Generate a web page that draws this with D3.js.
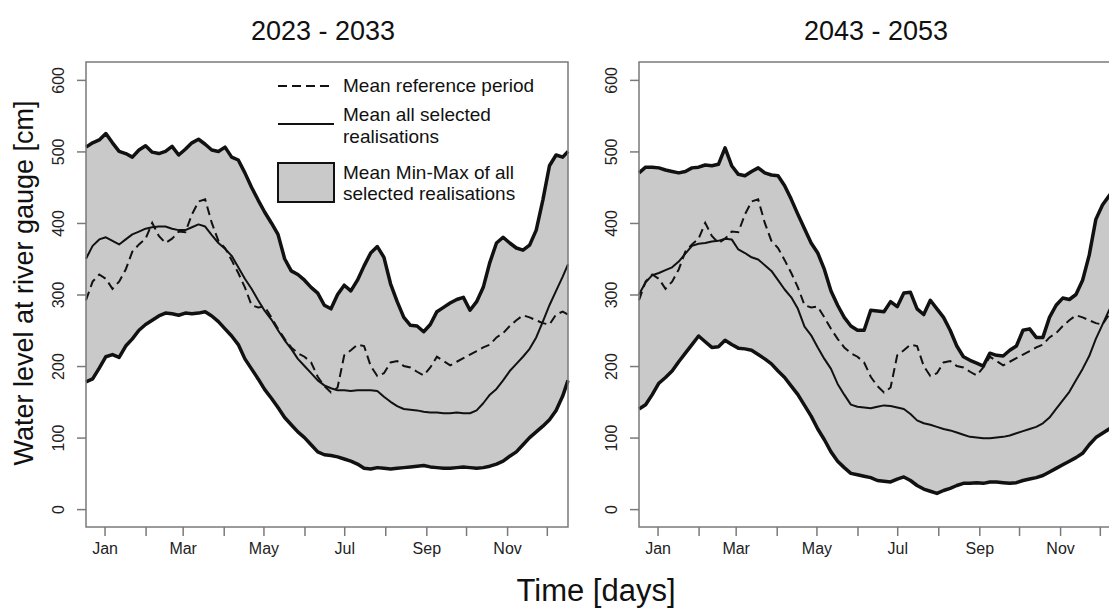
<!DOCTYPE html>
<html>
<head>
<meta charset="utf-8">
<script src="https://cdn.jsdelivr.net/npm/d3@7"></script>
<style>
  html, body { margin: 0; padding: 0; background: #fff; overflow: hidden; }
  svg { display: block; font-family: "Liberation Sans", Arial, sans-serif; }
</style>
</head>
<body>
<svg id="chart" width="1109" height="609"></svg>
<script>
// Day-of-year grid shared by every series (5-day steps, closing on day 365)
const days = [...d3.range(1, 362, 5), 365];

// Month ticks sit at mid-month; only every other month is labelled
const monthTickDays = [15, 46, 74, 105, 135, 166, 196, 227, 258, 288, 319, 349];
const monthLabels = ["Jan", "", "Mar", "", "May", "", "Jul", "", "Sep", "", "Nov", ""];
const yTicks = [0, 100, 200, 300, 400, 500, 600];
const periods = ["2023 - 2033", "2043 - 2053"];

// Mean water level of the reference period [cm]
const refMean = [
  292, 318, 328, 322, 308, 318, 335, 360, 370, 378,
  400, 382, 372, 378, 388, 387, 412, 430, 433, 400,
  375, 365, 348, 330, 310, 285, 282, 283, 268, 252,
  238, 226, 218, 213, 205, 185, 172, 163, 170, 215,
  222, 230, 228, 200, 186, 190, 205, 207, 200, 198,
  192, 187, 198, 213, 207, 201, 206, 211, 216, 221,
  226, 230, 240, 246, 256, 264, 271, 268, 264, 260,
  258, 272, 276, 272
];

// 2023 - 2033: mean maximum, mean minimum and mean of all selected realisations
const maxA = [
  506, 512, 516, 525, 512, 500, 497, 492, 502, 508,
  499, 497, 500, 507, 495, 503, 512, 517, 510, 502,
  500, 506, 492, 488, 470, 450, 432, 415, 400, 384,
  350, 333, 328, 320, 310, 302, 285, 280, 300, 313,
  305, 320, 340, 358, 367, 352, 315, 290, 268, 257,
  256, 248, 258, 276, 282, 288, 293, 296, 278, 290,
  310, 345, 372, 380, 372, 365, 362, 369, 390, 432,
  480, 495, 492, 500
];
const minA = [
  178, 182, 197, 213, 216, 212, 228, 238, 250, 258,
  264, 270, 274, 273, 271, 274, 273, 274, 276, 270,
  262, 252, 242, 230, 210, 196, 182, 167, 155, 142,
  128, 118, 108, 100, 90, 80, 76, 75, 73, 70,
  67, 63, 57, 56, 58, 57, 56, 57, 58, 59,
  60, 61, 59, 58, 57, 57, 58, 59, 58, 57,
  58, 60, 63, 67, 74, 80, 90, 100, 108, 116,
  125, 138, 158, 180
];
const meanA = [
  350, 368, 377, 380, 375, 370, 377, 384, 388, 392,
  394, 395, 395, 392, 390, 390, 394, 398, 395, 383,
  372, 364, 354, 338, 322, 308, 292, 277, 265, 250,
  236, 224, 210, 200, 190, 180, 173, 169, 166, 166,
  165, 166, 166, 166, 165, 157, 150, 144, 140, 139,
  138, 136, 135, 135, 134, 134, 135, 134, 134, 138,
  148, 160, 168, 180, 193, 203, 213, 224, 240, 262,
  285, 305, 325, 342
];

// 2043 - 2053
const maxB = [
  470, 478, 478, 477, 474, 472, 470, 472, 477, 478,
  481, 480, 482, 505, 480, 468, 466, 472, 477, 470,
  467, 466, 452, 433, 412, 392, 372, 358, 335, 305,
  285, 268, 256, 250, 250, 278, 277, 276, 290, 283,
  302, 303, 280, 272, 292, 280, 268, 250, 228, 213,
  208, 204, 200, 218, 215, 214, 222, 228, 250, 252,
  240, 240, 268, 285, 295, 293, 300, 320, 355, 405,
  425, 438, 450, 458
];
const minB = [
  140, 146, 160, 176, 184, 193, 206, 218, 230, 242,
  234, 226, 227, 236, 230, 225, 224, 222, 216, 210,
  203, 193, 184, 172, 160, 145, 130, 112, 97, 80,
  67, 58, 50, 48, 46, 44, 40, 39, 38, 42,
  45, 40, 33, 28, 25, 22, 26, 29, 33, 36,
  36, 37, 36, 38, 38, 37, 36, 37, 40, 42,
  44, 47, 52, 57, 62, 67, 72, 78, 90, 100,
  106, 112, 118, 122
];
const meanB = [
  300, 317, 327, 330, 334, 338, 346, 357, 368, 371,
  372, 374, 375, 378, 377, 363, 358, 352, 349, 341,
  333, 320, 307, 296, 280, 255, 243, 226, 210, 196,
  175, 160, 146, 143, 142, 141, 143, 145, 144, 142,
  140, 133, 124, 120, 118, 115, 112, 110, 107, 104,
  101, 100, 99, 99, 100, 101, 103, 106, 109, 112,
  115, 120, 128, 140, 152, 164, 180, 196, 214, 238,
  258, 278, 295, 302
];

const panels = [
  { title: periods[0], left: 86, max: maxA, min: minA, mean: meanA, legend: true },
  { title: periods[1], left: 639, max: maxB, min: minB, mean: meanB, legend: false }
];

const W = 482, TOP = 62, BOTTOM = 527;
const ink = "#111", frame = "#7a7a7a", band = "#c9c9c9";
const FONT = "Liberation Sans, Arial, sans-serif";

const svg = d3.select("#chart");
const y = d3.scaleLinear().domain([-25, 625]).range([BOTTOM, TOP]);

panels.forEach(p => {
  const x = d3.scaleLinear().domain([1, 365]).range([p.left, p.left + W]);
  const g = svg.append("g");
  const rows = days.map((d, i) => ({ d, hi: p.max[i], lo: p.min[i], m: p.mean[i], r: refMean[i] }));

  // Min-max band
  g.append("path")
    .datum(rows)
    .attr("fill", band)
    .attr("d", d3.area().x(r => x(r.d)).y0(r => y(r.lo)).y1(r => y(r.hi)));

  const line = key => d3.line().x(r => x(r.d)).y(r => y(r[key]));

  g.append("path").datum(rows).attr("fill", "none").attr("stroke", ink)
    .attr("stroke-width", 3.5).attr("stroke-linejoin", "round").attr("d", line("hi"));
  g.append("path").datum(rows).attr("fill", "none").attr("stroke", ink)
    .attr("stroke-width", 3.5).attr("stroke-linejoin", "round").attr("d", line("lo"));
  g.append("path").datum(rows).attr("fill", "none").attr("stroke", ink)
    .attr("stroke-width", 2).attr("stroke-linejoin", "round").attr("d", line("m"));
  g.append("path").datum(rows).attr("fill", "none").attr("stroke", ink)
    .attr("stroke-width", 2).attr("stroke-dasharray", "9,5").attr("d", line("r"));

  // Plot frame
  g.append("rect")
    .attr("x", p.left).attr("y", TOP).attr("width", W).attr("height", BOTTOM - TOP)
    .attr("fill", "none").attr("stroke", frame).attr("stroke-width", 1.5);

  // x axis: month ticks
  const xAxis = d3.axisBottom(x)
    .tickValues(monthTickDays)
    .tickSize(9)
    .tickPadding(6)
    .tickFormat((d, i) => monthLabels[i]);
  const xg = g.append("g").attr("transform", `translate(0,${BOTTOM})`).call(xAxis);
  xg.attr("font-size", null).attr("font-family", null);
  xg.select(".domain").remove();
  xg.selectAll(".tick line").attr("stroke", frame).attr("stroke-width", 1.5);
  xg.selectAll(".tick text")
    .attr("fill", "#222").attr("font-size", 16).attr("font-family", FONT)
    .attr("dy", "0.72em");

  // y axis: rotated labels
  const yAxis = d3.axisLeft(y).tickValues(yTicks).tickSize(9).tickFormat(d3.format("d"));
  const yg = g.append("g").attr("transform", `translate(${p.left},0)`).call(yAxis);
  yg.attr("font-size", null).attr("font-family", null);
  yg.select(".domain").remove();
  yg.selectAll(".tick line").attr("stroke", frame).attr("stroke-width", 1.5);
  yg.selectAll(".tick text")
    .attr("fill", "#222").attr("font-size", 16).attr("font-family", FONT)
    .attr("x", null).attr("dy", null)
    .attr("text-anchor", "middle")
    .attr("transform", "translate(-22,0) rotate(-90)");

  // Panel title
  svg.append("text")
    .attr("x", p.left + W / 2 - 4).attr("y", 40)
    .attr("text-anchor", "middle")
    .attr("font-size", 27).attr("fill", "#111")
    .text(p.title);

  if (p.legend) {
    const lg = svg.append("g").attr("font-size", 19).attr("fill", "#111");
    const lx0 = 278, lx1 = 334, tx = 343;
    lg.append("line").attr("x1", lx0).attr("x2", lx1).attr("y1", 86).attr("y2", 86)
      .attr("stroke", ink).attr("stroke-width", 2.2).attr("stroke-dasharray", "9,5");
    lg.append("text").attr("x", tx).attr("y", 92).text("Mean reference period");

    lg.append("line").attr("x1", lx0).attr("x2", lx1).attr("y1", 124).attr("y2", 124)
      .attr("stroke", ink).attr("stroke-width", 2.2);
    lg.append("text").attr("x", tx).attr("y", 121).text("Mean all selected");
    lg.append("text").attr("x", tx).attr("y", 143).text("realisations");

    lg.append("rect").attr("x", lx0).attr("y", 163).attr("width", lx1 - lx0).attr("height", 39)
      .attr("fill", band).attr("stroke", ink).attr("stroke-width", 2);
    lg.append("text").attr("x", tx).attr("y", 179).text("Mean Min-Max of all");
    lg.append("text").attr("x", tx).attr("y", 200).text("selected realisations");
  }
});

// Shared axis titles
svg.append("text")
  .attr("transform", "translate(33,283) rotate(-90)")
  .attr("text-anchor", "middle")
  .attr("font-size", 27).attr("fill", "#111")
  .text("Water level at river gauge [cm]");

svg.append("text")
  .attr("x", 596).attr("y", 601)
  .attr("text-anchor", "middle")
  .attr("font-size", 31).attr("fill", "#111")
  .text("Time [days]");
</script>
</body>
</html>
